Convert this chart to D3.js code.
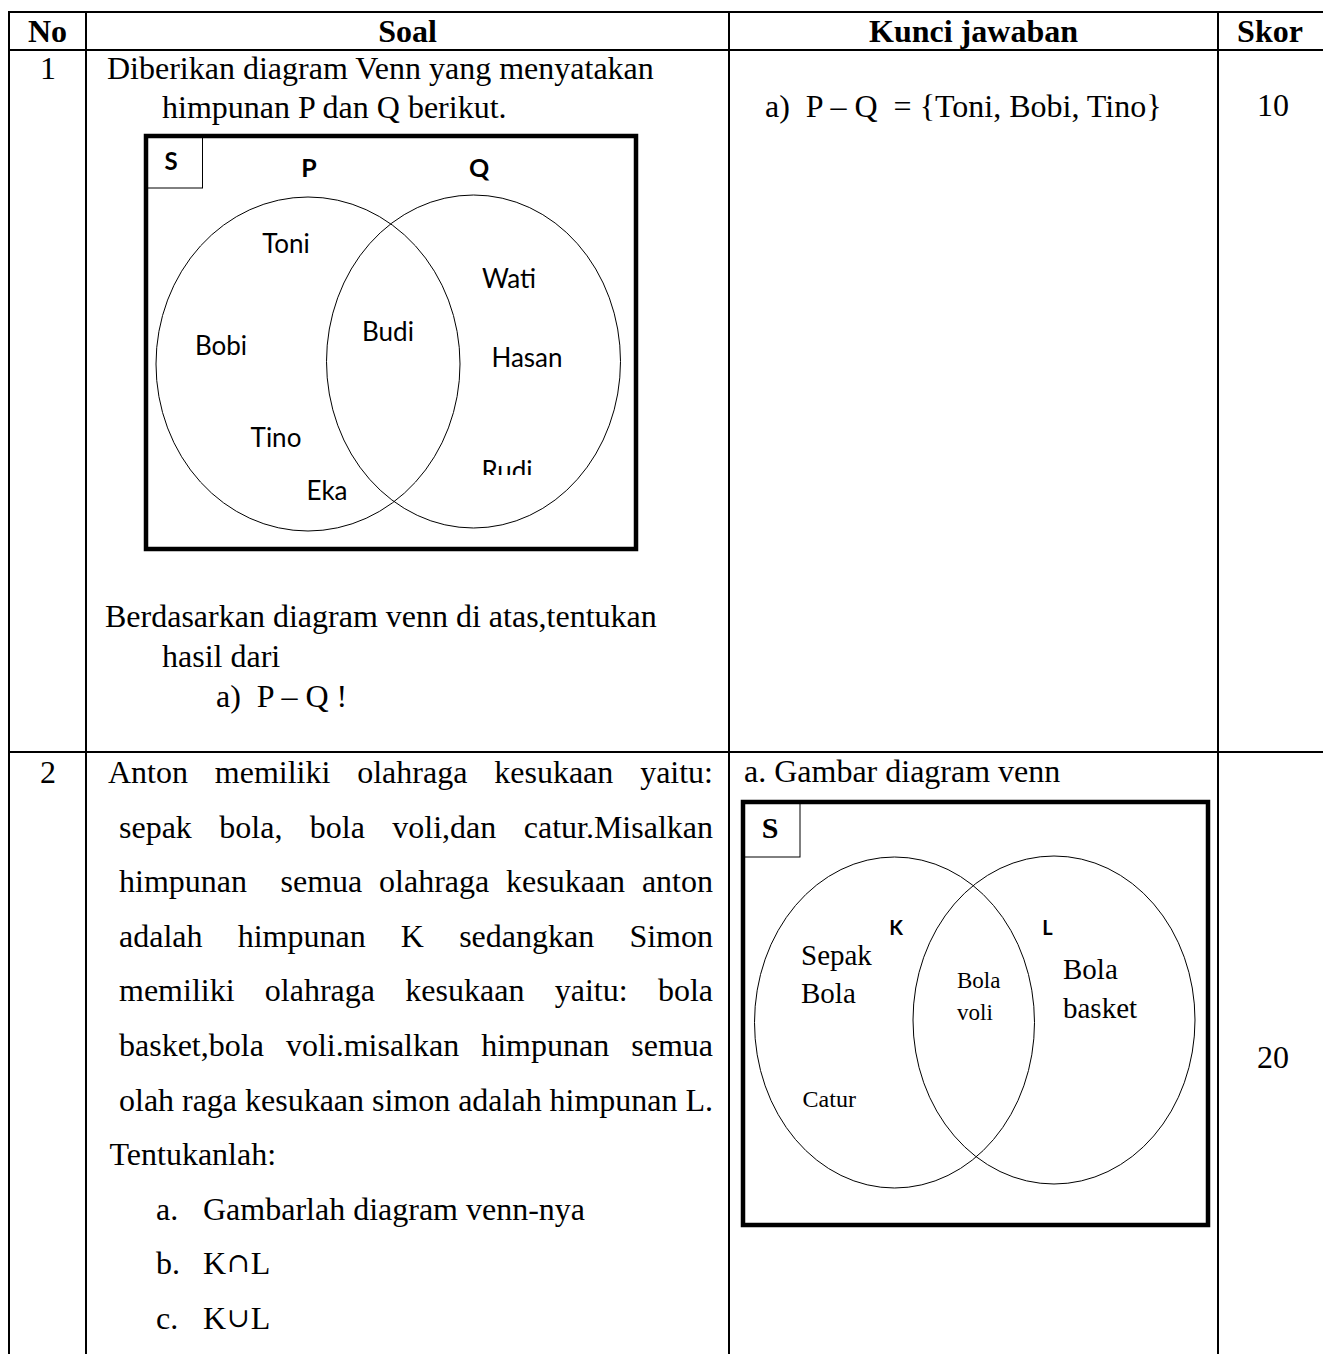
<!DOCTYPE html>
<html>
<head>
<meta charset="utf-8">
<script src="https://cdn.jsdelivr.net/npm/d3@7"></script>
<style>
  body { margin: 0; background: #fff; }
  text { white-space: pre; fill: #000; }
</style>
</head>
<body>
<div id="chart"></div>
<script>
// ---- content ----
var headers = ["No", "Soal", "Kunci jawaban", "Skor"];
var rowNumbers = ["1", "2"];
var scores = ["10", "20"];

var q1Intro = ["Diberikan diagram Venn yang menyatakan", "himpunan P dan Q berikut."];
var q1Ask = ["Berdasarkan diagram venn di atas,tentukan", "hasil dari", "a)  P – Q !"];
var a1Text = "a)  P – Q  = {Toni, Bobi, Tino}";

var setsPQ = ["P", "Q"];
var membersPQ = ["Toni", "Wati", "Budi", "Bobi", "Hasan", "Tino", "Rudi", "Eka"];

var q2Justified = [
  "Anton memiliki olahraga kesukaan yaitu:",
  "sepak bola, bola voli,dan catur.Misalkan",
  "himpunan  semua olahraga kesukaan anton",
  "adalah himpunan K sedangkan Simon",
  "memiliki olahraga kesukaan yaitu: bola",
  "basket,bola voli.misalkan himpunan semua",
  "olah raga kesukaan simon adalah himpunan L."
];
var q2Task = "Tentukanlah:";
var q2Items = [["a.", "Gambarlah diagram venn-nya"], ["b.", "K", "∩", "L"], ["c.", "K", "∪", "L"]];
var a2Title = "a. Gambar diagram venn";
var setsKL = ["K", "L"];
var membersKL = ["Sepak\nBola", "Bola\nvoli", "Bola\nbasket", "Catur"];

// ---- layout ----
var W = 1323, H = 1354;
var serif = "'Liberation Serif', 'Times New Roman', serif";
var sans = "Lato, 'Open Sans', sans-serif";
var colX = [9, 86, 729, 1218, 1325];
var rowY = [12, 50, 752, 1380];

var svg = d3.select("#chart").append("svg")
    .attr("width", W)
    .attr("height", H);

// table grid
var grid = svg.append("g").attr("stroke", "#000").attr("stroke-width", 2);
grid.selectAll(".hline").data(rowY.slice(0, 3)).enter().append("line")
    .attr("x1", colX[0] - 1).attr("x2", W)
    .attr("y1", function (d) { return d; }).attr("y2", function (d) { return d; });
grid.selectAll(".vline").data(colX.slice(0, 4)).enter().append("line")
    .attr("x1", function (d) { return d; }).attr("x2", function (d) { return d; })
    .attr("y1", rowY[0]).attr("y2", H);

// header
svg.selectAll(".head").data(headers).enter().append("text")
    .attr("x", function (d, i) { return i === 3 ? 1270 : (colX[i] + colX[i + 1]) / 2; })
    .attr("y", 42)
    .attr("text-anchor", "middle")
    .style("font-family", serif).style("font-weight", "bold").style("font-size", "32px")
    .text(function (d) { return d; });

// row numbers and scores
var rowBase = [79, 783];
svg.selectAll(".rno").data(rowNumbers).enter().append("text")
    .attr("x", 48).attr("y", function (d, i) { return rowBase[i]; })
    .attr("text-anchor", "middle")
    .style("font-family", serif).style("font-size", "32px")
    .text(function (d) { return d; });
var scoreBase = [116, 1068];
svg.selectAll(".score").data(scores).enter().append("text")
    .attr("x", 1273).attr("y", function (d, i) { return scoreBase[i]; })
    .attr("text-anchor", "middle")
    .style("font-family", serif).style("font-size", "32px")
    .text(function (d) { return d; });

function plain(x, y, str, size, family, weight) {
  return svg.append("text").attr("x", x).attr("y", y)
      .style("font-family", family || serif)
      .style("font-size", (size || 32) + "px")
      .style("font-weight", weight || "normal")
      .text(str);
}

// ---- row 1, question ----
plain(107, 79, q1Intro[0]);
plain(162, 118, q1Intro[1]);
var askX = [105, 162, 216], askY = [627, 667, 707];
q1Ask.forEach(function (s, i) { plain(askX[i], askY[i], s); });
plain(765, 117, a1Text);

// venn diagram helper
function venn(opt) {
  var g = svg.append("g");
  g.append("rect")
      .attr("x", opt.box[0]).attr("y", opt.box[1])
      .attr("width", opt.box[2] - opt.box[0]).attr("height", opt.box[3] - opt.box[1])
      .attr("fill", "none").attr("stroke", "#000").attr("stroke-width", 4.5);
  g.append("rect")
      .attr("x", opt.box[0]).attr("y", opt.box[1])
      .attr("width", opt.sBox[0] - opt.box[0]).attr("height", opt.sBox[1] - opt.box[1])
      .attr("fill", "none").attr("stroke", "#000").attr("stroke-width", 1);
  g.append("text")
      .attr("x", opt.sLabel[0]).attr("y", opt.sLabel[1]).attr("text-anchor", "middle")
      .style("font-family", opt.sFont).style("font-weight", "bold").style("font-size", opt.sSize + "px")
      .text("S");
  g.selectAll("ellipse").data(opt.ellipses).enter().append("ellipse")
      .attr("cx", function (d) { return d[0]; }).attr("cy", function (d) { return d[1]; })
      .attr("rx", function (d) { return d[2]; }).attr("ry", function (d) { return d[3]; })
      .attr("fill", "none").attr("stroke", "#000").attr("stroke-width", 1);
  g.selectAll(".setname").data(opt.sets).enter().append("text")
      .attr("x", function (d, i) { return opt.setPos[i][0]; })
      .attr("y", function (d, i) { return opt.setPos[i][1]; })
      .attr("text-anchor", "middle")
      .style("font-family", sans).style("font-weight", "bold").style("font-size", opt.setSize + "px")
      .text(function (d) { return d; });
  return g;
}

var v1 = venn({
  box: [146, 136, 636, 549], sBox: [202.5, 188], sLabel: [171, 170], sFont: sans, sSize: 24,
  ellipses: [[308, 364, 152, 167], [473.5, 361.5, 147, 166.5]],
  sets: setsPQ, setPos: [[309, 177], [479, 177]], setSize: 25
});
var posPQ = [[286, 253], [509, 288], [388, 341], [221, 355], [527, 367], [276, 447], [507, 480], [327, 500]];
svg.append("clipPath").attr("id", "rudiClip").append("rect")
    .attr("x", 140).attr("y", 130).attr("width", 500).attr("height", 345);
v1.selectAll(".member").data(membersPQ).enter().append("text")
    .attr("x", function (d, i) { return posPQ[i][0]; })
    .attr("y", function (d, i) { return posPQ[i][1]; })
    .attr("text-anchor", "middle")
    .attr("clip-path", function (d) { return d === "Rudi" ? "url(#rudiClip)" : null; })
    .style("font-family", sans).style("font-size", "26px")
    .text(function (d) { return d; });

// ---- row 2, question (justified) ----
function justify(words, x0, x1, y) {
  var g = svg.append("g");
  var ts = g.selectAll("text").data(words).enter().append("text")
      .attr("y", y)
      .style("font-family", serif).style("font-size", "32px")
      .text(function (d) { return d; });
  var widths = ts.nodes().map(function (n) { return n.getComputedTextLength(); });
  var gap = (x1 - x0 - d3.sum(widths)) / (words.length - 1);
  var x = x0;
  ts.attr("x", function (d, i) { var xi = x; x += widths[i] + gap; return xi; });
}
var lineY = d3.scaleLinear().domain([0, 1]).range([783, 837.6]);
q2Justified.forEach(function (s, i) {
  justify(s.split(" "), i === 0 ? 108 : 119, 713, lineY(i));
});
plain(109.5, lineY(7), q2Task);
q2Items.forEach(function (item, i) {
  var y = lineY(8 + i);
  plain(156, y, item[0]);
  if (item.length === 2) {
    plain(203, y, item[1]);
  } else {
    var t = plain(203, y, item[1]);
    t.append("tspan").style("font-family", "'DejaVu Serif', serif").style("font-size", "27px")
        .style("font-weight", "300").attr("dx", 1).attr("dy", -2).text(item[2]);
    t.append("tspan").attr("dx", 1).attr("dy", 2).text(item[3]);
  }
});

// ---- row 2, answer ----
plain(744, 782, a2Title);
var v2 = venn({
  box: [743, 802, 1208, 1225], sBox: [800, 857], sLabel: [770, 838], sFont: serif, sSize: 30,
  ellipses: [[894.5, 1022.5, 140, 165.5], [1054, 1020, 141, 164]],
  sets: setsKL, setPos: [[896, 935], [1047.5, 935]], setSize: 20
});
var posKL = [[801, 965, 29], [957, 988, 23], [1063, 979, 29], [802.6, 1107, 24]];
var lineGap = [38, 32, 39, 0];
v2.selectAll(".member").data(membersKL).enter().append("text")
    .attr("x", function (d, i) { return posKL[i][0]; })
    .attr("y", function (d, i) { return posKL[i][1]; })
    .style("font-family", serif)
    .style("font-size", function (d, i) { return posKL[i][2] + "px"; })
    .each(function (d, i) {
      var el = d3.select(this);
      d.split("\n").forEach(function (part, j) {
        el.append("tspan").attr("x", posKL[i][0]).attr("dy", j === 0 ? 0 : lineGap[i]).text(part);
      });
    });
</script>
</body>
</html>
